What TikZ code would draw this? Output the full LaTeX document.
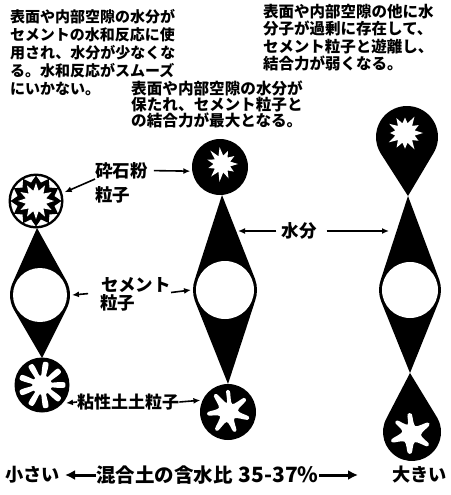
\documentclass[tikz,border=0pt]{standalone}
\usepackage{fontspec}
\newfontfamily\jpfont{Noto Sans CJK JP}
\usetikzlibrary{arrows.meta,calc}

\begin{document}
\begin{tikzpicture}[x=1pt,y=-1pt,
  note/.style={anchor=north west, inner sep=0pt, align=left},
  lbl/.style={inner sep=0pt, font=\jpfont\bfseries\fontsize{17.5}{20}\selectfont},
  foot/.style={inner sep=0pt, font=\jpfont\bfseries\fontsize{19.5}{22}\selectfont},
  endword/.style={inner sep=0pt, font=\jpfont\bfseries\fontsize{18.2}{22}\selectfont},
  ptr/.style={line width=1.6pt, -{Latex[length=7pt,width=6pt]}},
  bigptr/.style={line width=3pt, -{Latex[length=10pt,width=10pt]}},
  grain/.style={circle, inner sep=0pt, outer sep=0pt, minimum size=#1},
]
\useasboundingbox (0,0) rectangle (450,495);

% ---------- reference nodes of the particles ----------
\node[grain=60pt] (stoneL) at (36,201) {};
\node[grain=64pt] (cemL)   at (40,295) {};
\node[grain=60pt] (clayL)  at (42,385) {};
\node[grain=60pt] (stoneM) at (220,167) {};
\node[grain=68pt] (cemM)   at (225,290) {};
\node[grain=60pt] (clayM)  at (228,412) {};
\node[grain=66pt] (stoneR) at (407,137) {};
\node[grain=66pt] (cemR)   at (410,290) {};
\node[grain=62pt] (clayR)  at (412,432) {};

% ---------- left column: little water ----------
% water bridges around the cement grain
\fill (37,228) -- ($(cemL)+(207:30)$) arc[start angle=207, end angle=151, radius=30]
      -- (42,358) -- ($(cemL)+(29:30)$) arc[start angle=29, end angle=-27, radius=30] -- cycle;
\fill[white] (cemL) circle[radius=27];
% crushed stone grain with jagged rim
\begin{scope}[shift={(36,201)}]
  \fill (0,0) circle[radius=27.5];
  \fill[white] (0,0) circle[radius=25];
  \fill (0:25.5) \foreach \i in {1,...,23}{ -- ({\i*15}:{ifthenelse(isodd(\i),19,25.5)}) } -- cycle;
  \fill[white] (0:18) \foreach \i in {1,...,23}{ -- ({\i*15}:{ifthenelse(isodd(\i),10.5,18)}) } -- cycle;
\end{scope}
% clay grain with rounded inward fingers
\fill (clayL) circle[radius=27.5];
\fill[white] plot[domain=0:360, samples=241]
  ({42+(16.5+7*tanh(2.5*cos(9*\x)))*cos(\x)}, {385+(16.5+7*tanh(2.5*cos(9*\x)))*sin(\x)}) -- cycle;

% ---------- middle column: optimum water ----------
\fill (222,195) -- ($(cemM)+(200:32)$) arc[start angle=200, end angle=160, radius=32]
      -- (228,384) -- ($(cemM)+(20:32)$) arc[start angle=20, end angle=-20, radius=32] -- cycle;
\fill[white] (cemM) circle[radius=29];
\fill (stoneM) circle[radius=28];
\begin{scope}[shift={(222,164)}]
  \fill[white] (0:16) \foreach \i in {1,...,21}{ -- ({\i*360/22}:{ifthenelse(isodd(\i),8.5,16+2*sin(\i*137))}) } -- cycle;
\end{scope}
\fill (clayM) circle[radius=28];
\begin{scope}[shift={(228,412)}]
  \fill[white] plot[smooth cycle, tension=0.5] coordinates {
    (-95:21) (-85:21) (-62:9) (-42:21) (-32:21) (-8:10) (12:21) (22:21) (45:9)
    (65:20) (75:20) (97:10) (118:21) (128:21) (152:9) (170:20) (180:20) (205:10)
    (228:21) (238:21) (262:9)};
\end{scope}

% ---------- right column: excess water ----------
\fill ($(stoneR)+(31.7:31)$) arc[start angle=31.7, end angle=-211.7, radius=31] -- (408,196) -- cycle;
\fill (408,196) -- ($(cemR)+(199.3:31)$) arc[start angle=199.3, end angle=158.1, radius=31]
      -- (410,373) -- ($(cemR)+(21.9:31)$) arc[start angle=21.9, end angle=-19.3, radius=31] -- cycle;
\fill[white] (cemR) circle[radius=28];
\fill (410,373) -- ($(clayR)+(209.4:29)$) arc[start angle=209.4, end angle=-29.4, radius=29] -- cycle;
\begin{scope}[shift={(405,133)}]
  \fill[white] (0:18) \foreach \i in {1,...,23}{ -- ({\i*15}:{ifthenelse(isodd(\i),10,17+2*sin(\i*113))}) } -- cycle;
\end{scope}
\begin{scope}[shift={(411,434)}]
  \fill[white] plot[smooth cycle, tension=0.5] coordinates {
    (-100:20) (-88:20) (-62:9) (-35:20) (-25:20) (5:10) (28:20) (38:20) (65:9)
    (88:19) (100:19) (130:10) (155:20) (165:20) (195:9) (215:19) (225:19) (250:10)};
\end{scope}

% ---------- explanatory notes ----------
\node[note, font=\jpfont\bfseries\fontsize{15}{18}\selectfont] (noteL) at (10,9)
  {表面や内部空隙の水分が\\セメントの水和反応に使\\用され、水分が少なくな\\る。水和反応がスムーズ\\にいかない。};
\node[note, font=\jpfont\bfseries\fontsize{15.5}{17.3}\selectfont] (noteR) at (263,4)
  {表面や内部空隙の他に水\\分子が過剰に存在して、\\セメント粒子と遊離し、\\結合力が弱くなる。};
\node[note, font=\jpfont\bfseries\fontsize{15.6}{15.6}\selectfont] (noteM) at (131,81)
  {表面や内部空隙の水分が\\保たれ、セメント粒子と\\の結合力が最大となる。};

% ---------- particle labels ----------
\node[lbl, anchor=north west] (stoneTxtA) at (95,162) {砕石粉};
\node[lbl, anchor=north west] (stoneTxtB) at (95,186) {粒子};
\draw[ptr] (stoneTxtA.south west) -- (stoneL.17);
\draw[ptr, shorten <=6pt] (stoneTxtA.east) -- (stoneM.188);

\node[lbl, anchor=center] (water) at (299,231) {水分};
\coordinate (waterM) at (238,231);
\coordinate (waterR) at (389,231);
\draw[ptr, shorten <=5pt] (water.west) -- (waterM);
\draw[ptr, shorten <=10pt] (water.east) -- (waterR);

\node[lbl, anchor=north west] (cemTxtA) at (101,277) {セメント};
\node[lbl, anchor=north west] (cemTxtB) at (100,294) {粒子};
\draw[ptr, shorten <=13pt] (cemTxtA.south west) -- (cemL.east);
\draw[ptr] (cemTxtA.south east) -- (cemM.west);

\node[lbl, anchor=west, font=\jpfont\bfseries\fontsize{17}{20}\selectfont] (clayTxt) at (77,402) {粘性土土粒子};
\draw[ptr] (clayTxt.west) -- (clayL.-37);
\draw[ptr] (clayTxt.east) -- (clayM.157);

% ---------- water content axis ----------
\node[endword, anchor=west] (small) at (5,475) {小さい};
\node[foot, anchor=west] (wc) at (96,475)
  {混合土の含水比\hspace{6pt}{\fontsize{21}{22}\selectfont 35-37\%}};
\node[endword, anchor=west] (large) at (392,475) {大きい};
\draw[bigptr, shorten >=5pt] (wc.west) -- (small.east);
\draw[bigptr, shorten >=34pt] (wc.east) -- (large.west);
\end{tikzpicture}
\end{document}
